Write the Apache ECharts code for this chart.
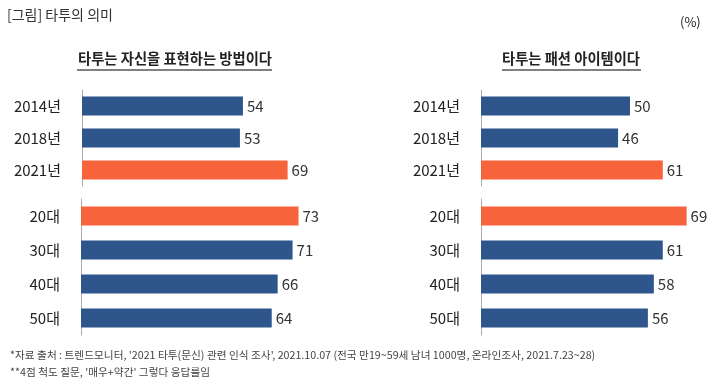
<!DOCTYPE html>
<html>
<head>
<meta charset="utf-8">
<script src="https://cdn.jsdelivr.net/npm/echarts@6/dist/echarts.min.js"></script>
<style>html,body{margin:0;padding:0;background:#fff;}#c{width:721px;height:386px;}</style>
</head>
<body>
<div id="c"></div>
<script>
const yearCats = ['2014년', '2018년', '2021년'];
const ageCats = ['20대', '30대', '40대', '50대'];
const leftYear = [54, 53, 69];
const leftAge = [73, 71, 66, 64];
const rightYear = [50, 46, 61];
const rightAge = [69, 61, 58, 56];
const highlightYear = '2021년';
const highlightAge = '20대';
const titleText = '[그림] 타투의 의미';
const leftTitle = '타투는 자신을 표현하는 방법이다';
const rightTitle = '타투는 패션 아이템이다';
const unitText = '(%)';
const note1 = "*자료 출처 : 트렌드모니터, '2021 타투(문신) 관련 인식 조사', 2021.10.07 (전국 만19~59세 남녀 1000명, 온라인조사, 2021.7.23~28)";
const note2 = "**4점 척도 질문, '매우+약간' 그렇다 응답률임";

const BLUE = '#2F568C', ORANGE = '#F7643C';
const FONT = '"Noto Sans CJK KR", "Noto Sans", sans-serif';

const grids = [
  {left: 82, top: 90, width: 238.4, height: 96},
  {left: 81, top: 199, width: 238.4, height: 136},
  {left: 481, top: 90, width: 238.4, height: 96},
  {left: 481, top: 199, width: 238.4, height: 136}
];
const catsList = [yearCats, ageCats, yearCats, ageCats];
const dataList = [leftYear, leftAge, rightYear, rightAge];
const hl = [highlightYear, highlightAge, highlightYear, highlightAge];

const chart = echarts.init(document.getElementById('c'));
chart.setOption({
  animation: false,
  textStyle: {fontFamily: FONT},
  grid: grids.map(g => Object.assign({containLabel: false}, g)),
  xAxis: grids.map((g, i) => ({
    type: 'value', gridIndex: i, min: 0, max: 80, show: false
  })),
  yAxis: grids.map((g, i) => ({
    type: 'category', gridIndex: i, data: catsList[i], inverse: true,
    axisLine: {show: true, lineStyle: {color: '#aaaaaa', width: 1}},
    axisTick: {show: false},
    splitLine: {show: false},
    axisLabel: {fontSize: 15, color: '#222', margin: 21, fontFamily: FONT}
  })),
  series: dataList.map((d, i) => ({
    type: 'bar', xAxisIndex: i, yAxisIndex: i, barWidth: 19,
    data: d.map((v, k) => ({value: v, itemStyle: {color: catsList[i][k] === hl[i] ? ORANGE : BLUE}})),
    label: {show: true, position: 'right', distance: 4, fontSize: 15, color: '#333', fontFamily: FONT}
  })),
  graphic: [
    {type: 'text', left: 7, top: 8, style: {text: titleText, fontSize: 14, fill: '#333', fontFamily: FONT}},
    {type: 'text', left: 680, top: 16, style: {text: unitText, fontSize: 13, fill: '#222', fontFamily: FONT}},
    {type: 'text', x: 175, y: 59, style: {text: leftTitle, fontSize: 14.3, fontWeight: 'bold', fill: '#222', align: 'center', verticalAlign: 'middle', fontFamily: FONT}},
    {type: 'text', x: 571, y: 59, style: {text: rightTitle, fontSize: 14.3, fontWeight: 'bold', fill: '#222', align: 'center', verticalAlign: 'middle', fontFamily: FONT}},
    {type: 'line', shape: {x1: 77, y1: 70, x2: 272, y2: 70}, style: {stroke: '#808080', lineWidth: 2}},
    {type: 'line', shape: {x1: 502, y1: 70, x2: 641, y2: 70}, style: {stroke: '#808080', lineWidth: 2}},
    {type: 'text', left: 10, top: 350, style: {text: note1, fontSize: 10.7, fill: '#444', fontFamily: FONT}},
    {type: 'text', left: 10, top: 367, style: {text: note2, fontSize: 10.7, fill: '#444', fontFamily: FONT}}
  ]
});
</script>
</body>
</html>
